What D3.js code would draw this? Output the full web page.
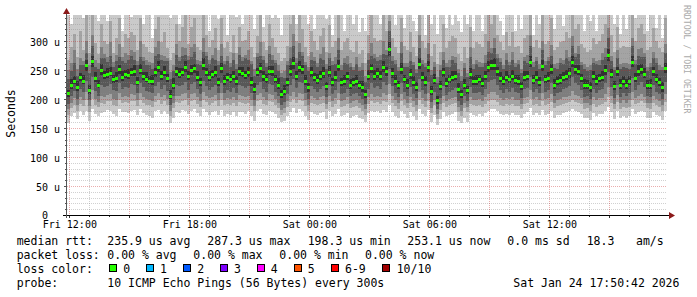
<!DOCTYPE html>
<html><head><meta charset="utf-8">
<script src="https://cdn.jsdelivr.net/npm/d3@7"></script>
<style>body{margin:0;background:#fff;overflow:hidden} svg text{font-family:"DejaVu Sans Mono",monospace}</style>
</head><body><svg id="c" width="697" height="297"></svg>
<script>
// ---- data (values in microseconds) ----
const startTime = new Date(2026, 0, 23, 11, 53);
const endTime = new Date(2026, 0, 24, 17, 53);
const stepMinutes = 9;
const median = [210,225,232,220,238,231,258,215,266,236,225,250,241,244,245,234,236,251,238,243,242,246,248,230,250,240,235,232,231,246,256,240,247,236,206,225,248,244,246,255,240,250,253,238,229,259,246,238,243,246,229,253,231,238,234,240,231,248,245,241,246,230,217,246,253,240,234,249,248,234,225,208,214,229,248,262,240,255,252,231,220,246,238,233,240,245,222,246,229,238,257,229,231,240,225,229,231,225,220,208,240,253,240,245,240,255,248,287,245,231,224,252,234,225,243,229,221,260,238,229,255,214,233,198,222,246,227,234,238,240,217,208,225,215,243,231,231,234,227,240,255,259,259,248,236,231,238,234,240,233,231,222,238,240,264,233,238,230,257,234,236,252,225,231,233,238,240,245,264,251,249,236,224,225,220,240,231,236,238,250,276,243,222,248,224,231,225,231,264,237,248,252,243,225,224,248,234,229,220,253];
const ping1 = [158,170,176,166,179,172,180,162,183,174,171,176,178,181,180,175,170,183,178,177,176,180,181,172,183,176,173,170,168,179,181,175,179,174,158,167,178,176,181,180,174,180,183,176,170,182,178,173,177,180,172,181,171,175,173,177,170,178,178,175,179,171,163,180,182,175,172,179,178,174,168,160,162,170,178,184,176,182,180,171,164,178,174,172,176,178,166,179,171,175,182,170,172,176,168,170,172,168,165,160,176,180,177,179,176,181,178,190,177,171,167,180,174,168,177,170,164,183,175,171,181,161,173,155,165,177,170,173,175,177,162,158,168,161,176,173,171,174,170,176,180,182,183,179,174,172,175,173,176,172,172,167,175,177,184,173,176,172,181,173,175,179,168,172,173,176,177,179,183,179,178,175,167,168,164,176,171,174,175,179,186,177,166,179,167,171,168,171,182,175,178,180,177,168,167,178,173,170,164,179];
const ping2 = [172,184,190,180,192,188,198,178,200,189,186,194,192,196,197,190,188,198,193,195,193,196,196,188,198,193,190,189,186,195,198,192,196,190,171,184,195,193,197,198,190,197,199,192,186,199,195,190,193,196,188,198,189,191,190,193,188,195,194,192,194,188,179,196,198,192,189,196,195,190,184,172,176,186,195,200,193,198,197,188,180,194,191,189,192,194,182,195,187,191,198,186,188,192,184,186,188,184,180,173,192,196,193,195,192,197,195,208,194,188,183,196,190,184,193,186,180,199,191,187,197,176,189,166,181,193,186,189,191,193,178,171,184,177,192,189,188,190,186,192,196,198,199,195,190,188,191,189,192,188,188,183,191,193,200,189,192,188,197,189,191,195,184,188,189,192,193,195,199,195,194,191,183,184,180,192,187,190,191,195,203,193,182,195,183,187,184,187,198,191,194,196,193,184,183,194,189,186,180,195];
const ping3 = [182,194,201,190,204,199,212,188,215,200,195,206,203,207,209,200,198,210,203,205,204,208,207,198,210,204,200,199,197,206,211,203,207,200,180,194,206,205,208,210,201,209,211,203,196,212,206,201,204,207,198,210,199,202,200,204,198,207,206,203,205,198,188,207,211,203,199,208,207,200,194,181,185,196,206,213,204,211,209,198,190,205,202,199,203,205,192,206,197,202,211,196,198,203,194,196,198,194,190,182,203,209,204,206,203,210,207,226,205,198,193,209,200,194,204,196,190,213,202,197,210,185,199,174,191,205,196,200,202,204,187,180,194,186,204,199,198,200,196,203,209,212,213,207,201,199,202,200,204,199,199,192,202,204,215,200,203,198,210,200,202,208,194,199,200,203,204,206,214,207,206,202,193,194,190,203,198,201,202,208,220,205,192,207,193,198,194,198,213,202,206,208,204,194,193,206,200,196,190,208];
const ping4 = [192,205,214,200,218,212,232,198,238,214,206,224,220,223,226,215,214,228,218,221,219,226,225,210,228,220,214,212,210,222,230,218,224,214,190,205,224,222,225,229,216,226,230,218,208,232,223,216,221,224,210,228,211,216,213,219,210,225,223,219,222,210,198,224,230,218,212,226,224,213,205,190,195,208,224,234,219,230,228,210,200,222,217,212,218,222,203,224,209,216,230,208,210,218,205,208,210,205,200,191,218,228,219,222,218,230,224,252,222,210,204,228,213,205,220,208,201,234,216,209,230,195,212,182,202,222,207,213,216,219,197,190,205,196,220,211,210,213,207,218,229,233,234,225,215,211,217,213,219,212,211,202,217,219,238,212,217,210,231,213,215,228,205,211,212,217,219,222,238,227,225,215,204,205,200,218,210,215,217,227,247,221,202,225,204,210,205,210,237,216,225,229,221,205,204,225,213,208,200,229];
const ping5 = [204,218,226,214,231,226,249,209,255,229,219,241,235,237,239,228,229,243,231,236,235,240,240,224,243,233,229,226,224,238,247,233,239,229,200,218,240,237,239,246,233,242,245,231,222,250,239,231,236,238,222,245,224,231,227,233,224,240,238,234,238,223,210,239,245,232,227,241,240,227,218,201,207,222,240,252,233,246,244,224,213,238,231,226,233,237,215,238,222,231,248,222,224,233,218,222,224,218,213,202,233,245,233,237,233,246,240,274,237,224,217,244,227,218,235,222,214,251,231,222,246,207,226,192,215,238,220,227,231,233,210,202,218,208,235,224,224,227,220,233,246,250,250,240,229,224,231,227,233,226,224,215,231,233,255,226,231,223,248,227,229,244,218,224,226,231,233,237,255,243,241,229,217,218,213,233,224,229,231,242,266,236,215,240,217,224,218,224,255,230,240,244,236,218,217,240,227,222,213,245];
const ping6 = [216,235,239,231,245,241,268,224,274,247,233,260,248,253,256,241,247,258,249,250,251,254,258,238,261,247,246,240,242,253,266,248,257,244,216,236,255,253,254,265,248,259,261,249,237,270,253,249,250,257,237,262,241,245,244,248,240,256,255,249,256,238,228,253,263,248,244,257,257,242,236,216,224,237,258,272,248,265,259,242,228,256,245,243,248,255,230,257,237,248,267,237,242,247,235,237,241,232,231,216,250,260,250,253,249,266,256,299,253,241,232,262,242,235,251,239,229,270,246,239,265,222,243,206,232,254,237,242,248,248,227,216,235,223,253,239,241,242,237,248,265,267,270,256,246,239,248,242,250,241,241,230,248,248,274,241,248,238,267,242,246,260,235,239,243,246,250,253,275,259,259,244,234,233,230,248,241,244,248,258,287,251,232,256,234,239,235,239,274,245,258,260,253,233,234,256,244,237,230,262];
const ping7 = [235,248,262,240,258,258,280,245,292,256,252,270,270,264,274,256,265,272,266,262,268,275,268,258,272,265,258,258,252,274,278,268,266,265,235,248,276,265,275,276,268,272,282,260,258,282,275,260,270,268,258,274,260,265,255,268,252,276,265,270,268,260,240,272,275,268,255,278,268,262,248,238,236,258,270,292,262,282,274,258,248,268,265,255,270,268,252,270,258,260,285,250,262,260,255,250,260,248,250,230,268,275,270,265,268,278,276,318,266,260,248,280,256,255,265,258,245,288,260,256,278,242,255,228,250,268,256,255,268,262,245,232,254,238,272,252,260,255,256,262,282,280,288,270,264,252,268,258,268,256,260,245,265,262,292,256,266,252,285,258,265,275,254,252,262,260,270,266,292,272,278,258,252,248,250,262,260,258,268,272,305,266,250,270,252,255,254,252,292,260,275,272,272,248,255,270,262,250,250,280];
const ping8 = [250,262,285,252,270,266,300,258,310,268,262,290,278,272,298,264,276,295,272,280,276,285,282,266,300,272,268,264,262,290,300,276,274,270,246,258,295,272,290,288,275,290,295,268,266,305,282,268,276,288,266,295,266,274,262,280,260,290,272,276,285,266,252,280,298,274,262,292,276,268,258,245,248,265,290,312,270,296,282,264,255,282,272,262,278,290,260,280,266,272,305,258,270,275,262,256,272,255,262,240,280,296,278,272,276,300,284,335,275,268,256,298,262,262,282,264,252,310,268,262,296,250,264,238,258,282,262,268,275,272,252,240,262,245,290,260,268,264,262,276,300,288,305,278,270,258,280,264,282,262,268,252,272,276,310,264,272,260,300,265,272,294,260,262,270,268,284,272,308,280,292,264,260,255,258,270,266,268,280,288,322,275,256,285,260,262,262,260,305,268,286,288,280,256,262,282,270,258,256,295];
const ping9 = [268,290,312,272,318,285,345,280,350,296,278,330,300,295,335,280,305,340,290,312,305,315,310,285,340,295,290,282,280,320,342,298,315,288,268,280,330,300,325,348,295,325,340,290,285,352,310,290,302,322,285,340,288,298,282,310,280,325,300,302,318,290,272,308,345,298,285,330,305,290,280,266,270,292,330,355,300,345,320,290,275,318,300,285,308,322,282,328,290,300,348,285,298,305,285,282,300,278,285,262,310,345,305,300,302,350,318,375,305,290,280,340,292,285,315,290,275,352,300,288,345,275,295,260,282,330,288,300,308,305,278,265,290,270,325,288,298,295,290,312,345,330,350,310,298,285,315,292,315,290,292,280,305,310,355,290,302,288,348,295,300,340,285,290,298,300,315,305,352,320,330,295,288,282,285,305,295,300,312,330,365,310,282,325,288,292,290,290,350,300,322,330,312,285,290,322,300,288,282,340];
const ping10 = [380,330,410,360,395,340,420,350,400,372,335,405,390,335,420,362,345,415,318,398,392,342,400,352,410,330,372,346,305,400,420,380,345,368,340,350,410,330,395,430,355,405,362,372,348,420,390,318,365,402,338,420,355,310,372,398,342,400,330,385,395,348,320,378,410,325,360,395,340,350,340,310,345,362,402,430,330,410,395,352,330,398,320,375,400,360,338,405,310,380,425,350,318,392,345,330,372,316,340,318,388,410,345,390,330,415,398,440,372,328,345,412,322,352,395,335,318,420,372,310,410,330,375,312,348,400,322,385,328,392,335,315,365,330,398,318,375,352,318,388,415,398,420,372,335,310,380,345,392,318,365,320,372,390,425,310,388,330,410,352,380,405,320,362,375,326,398,372,420,390,400,355,318,370,335,392,318,380,362,410,430,372,330,398,312,365,320,385,415,340,392,405,360,318,345,400,322,368,305,395];
const yTicks = [0, 50, 100, 150, 200, 250, 300];
const yMax = 345;
const smokeShades = ["#cacaca", "#a4a4a4", "#7e7e7e", "#585858", "#323232"];
const lossLabels = ["0", "1", "2", "3", "4", "5", "6-9", "10/10"];
const lossColors = ["#26ff00", "#00b8ff", "#0059ff", "#7e00ff", "#ff00ff", "#ff5500", "#ff0000", "#a10000"];
const rttStats = ["235.9 us avg", "287.3 us max", "198.3 us min", "253.1 us now", "0.0 ms sd", "18.3", "am/s"];
const lossStats = ["0.00 % avg", "0.00 % max", "0.00 % min", "0.00 % now"];
const probeText = "10 ICMP Echo Pings (56 Bytes) every 300s";
const stampText = "Sat Jan 24 17:50:42 2026";

// ---- layout ----
const L = 67, R = 667, T = 15, B = 215;
const FONT = "DejaVu Sans Mono";
const x = d3.scaleTime().domain([startTime, endTime]).range([L, R]);
const y = d3.scaleLinear().domain([0, yMax]).range([B, T]);
const svg = d3.select("#c");
svg.append("rect").attr("width", 697).attr("height", 297).attr("fill", "#fff");
svg.append("defs").append("clipPath").attr("id", "clip")
  .append("rect").attr("x", L).attr("y", T).attr("width", R - L).attr("height", B - T);

const times = median.map((d, i) => d3.timeMinute.offset(startTime, i * stepMinutes));
const x0 = i => x(times[i]);
const w = i => x(d3.timeMinute.offset(times[i], stepMinutes)) - x(times[i]);
const pings = [ping1, ping2, ping3, ping4, ping5, ping6, ping7, ping8, ping9, ping10];
const plot = svg.append("g").attr("clip-path", "url(#clip)").attr("shape-rendering", "crispEdges");
for (let k = 0; k < 5; k++) {
  const lo = pings[k], hi = pings[9 - k];
  plot.append("g").selectAll("rect").data(median).join("rect")
    .attr("x", (d, i) => x0(i)).attr("width", (d, i) => w(i))
    .attr("y", (d, i) => y(hi[i])).attr("height", (d, i) => y(lo[i]) - y(hi[i]))
    .attr("fill", smokeShades[k]);
}
plot.append("g").selectAll("rect").data(median).join("rect")
  .attr("x", (d, i) => x0(i)).attr("width", (d, i) => w(i))
  .attr("y", d => Math.round(y(d)) - 1).attr("height", 3)
  .attr("fill", lossColors[0]);

// ---- grid (drawn over the graph, translucent, dotted) ----
const grid = svg.append("g");
const minorC = "rgba(140,140,140,0.40)", majorC = "rgba(200,40,40,0.38)";
d3.range(10, yMax, 10).forEach(v => {
  const yy = Math.round(y(v)) + 0.5;
  grid.append("line").attr("x1", L).attr("x2", R).attr("y1", yy).attr("y2", yy)
    .attr("stroke", v % 50 === 0 ? majorC : minorC).attr("stroke-dasharray", "1,1");
});
x.ticks(d3.timeHour.every(1)).forEach(t => {
  const xx = Math.round(x(t)) + 0.5;
  const major = t.getHours() % 3 === 0;
  grid.append("line").attr("x1", xx).attr("x2", xx).attr("y1", T).attr("y2", B)
    .attr("stroke", major ? majorC : minorC).attr("stroke-dasharray", "1,1");
  grid.append("line").attr("x1", xx).attr("x2", xx).attr("y1", B).attr("y2", B + (major ? 3 : 2))
    .attr("stroke", "#333");
});
d3.range(10, yMax, 10).forEach(v => {
  const yy = Math.round(y(v)) + 0.5;
  grid.append("line").attr("x1", L - (v % 50 === 0 ? 3 : 2)).attr("x2", L).attr("y1", yy).attr("y2", yy)
    .attr("stroke", "#555");
});

// ---- axes lines & arrows ----
svg.append("line").attr("x1", 63).attr("x2", 670).attr("y1", B + 0.5).attr("y2", B + 0.5).attr("stroke", "#000");
svg.append("line").attr("x1", L - 0.5).attr("x2", L - 0.5).attr("y1", B + 3).attr("y2", 12).attr("stroke", "#555");
svg.append("path").attr("d", `M669,${B - 3}L675,${B + 0.5}L669,${B + 4}Z`).attr("fill", "#8b1a1a");
svg.append("path").attr("d", `M${L - 4},14L${L - 0.5},8L${L + 3},14Z`).attr("fill", "#8b1a1a");

// ---- axis labels ----
const xAxis = d3.axisBottom(x).ticks(d3.timeHour.every(6)).tickFormat(d3.timeFormat("%a %H:%M")).tickSize(0);
const gx = svg.append("g").attr("transform", `translate(0,${B})`).call(xAxis)
  .attr("font-family", FONT).attr("font-size", 10);
gx.select(".domain").remove();
gx.selectAll("text").attr("y", 12.7).attr("dy", 0).attr("fill", "#000");

const yAxis = d3.axisLeft(y).tickValues(yTicks).tickFormat(d => d === 0 ? "0" : d + " u").tickSize(0).tickPadding(0);
const gy = svg.append("g").attr("transform", "translate(60,0)").call(yAxis)
  .attr("font-family", FONT).attr("font-size", 10);
gy.select(".domain").remove();
gy.selectAll("text").attr("dy", d => d === 0 ? "0.31em" : "0.44em").attr("fill", "#000")
  .attr("dx", d => d === 0 ? -12 : 0);

svg.append("text").attr("transform", "translate(15,113.5) rotate(-90)")
  .attr("text-anchor", "middle").attr("font-size", 11.5).attr("fill", "#000").text("Seconds");
svg.append("text").attr("transform", "translate(684,5) rotate(90)")
  .attr("font-size", 8.2).attr("fill", "#aaaaaa").text("RRDTOOL / TOBI OETIKER");

// ---- legend ----
const leg = svg.append("g").attr("font-size", 11.5).attr("fill", "#000");
const line = (s, xx, yy) => leg.append("text").attr("x", xx).attr("y", yy).attr("xml:space", "preserve").text(s);
const LY = [244.7, 258.7, 272.7, 286.7];
line("median rtt:", 16.7, LY[0]);
[107.3, 207.3, 307.7, 407.3, 507.3, 586.7, 636].forEach((xx, i) => line(rttStats[i], xx, LY[0]));
line("packet loss:", 16.7, LY[1]);
[107.3, 193.3, 279.3, 365].forEach((xx, i) => line(lossStats[i], xx, LY[1]));
line("loss color:", 16.7, LY[2]);
const boxX = [109.3, 146, 183.3, 220, 257.3, 294.3, 330.7, 381.7];
const labX = [123.3, 160, 197.3, 234, 270.7, 307.7, 345, 396.7];
lossColors.forEach((c, i) => {
  leg.append("rect").attr("x", Math.round(boxX[i]) + 0.5).attr("y", 264.5).attr("width", 7).attr("height", 7)
    .attr("fill", c).attr("stroke", "#000");
  line(lossLabels[i], labX[i], LY[2]);
});
line("probe:", 16.7, LY[3]);
line(probeText, 107.3, LY[3]);
line(stampText, 513.3, LY[3]);
</script></body></html>
